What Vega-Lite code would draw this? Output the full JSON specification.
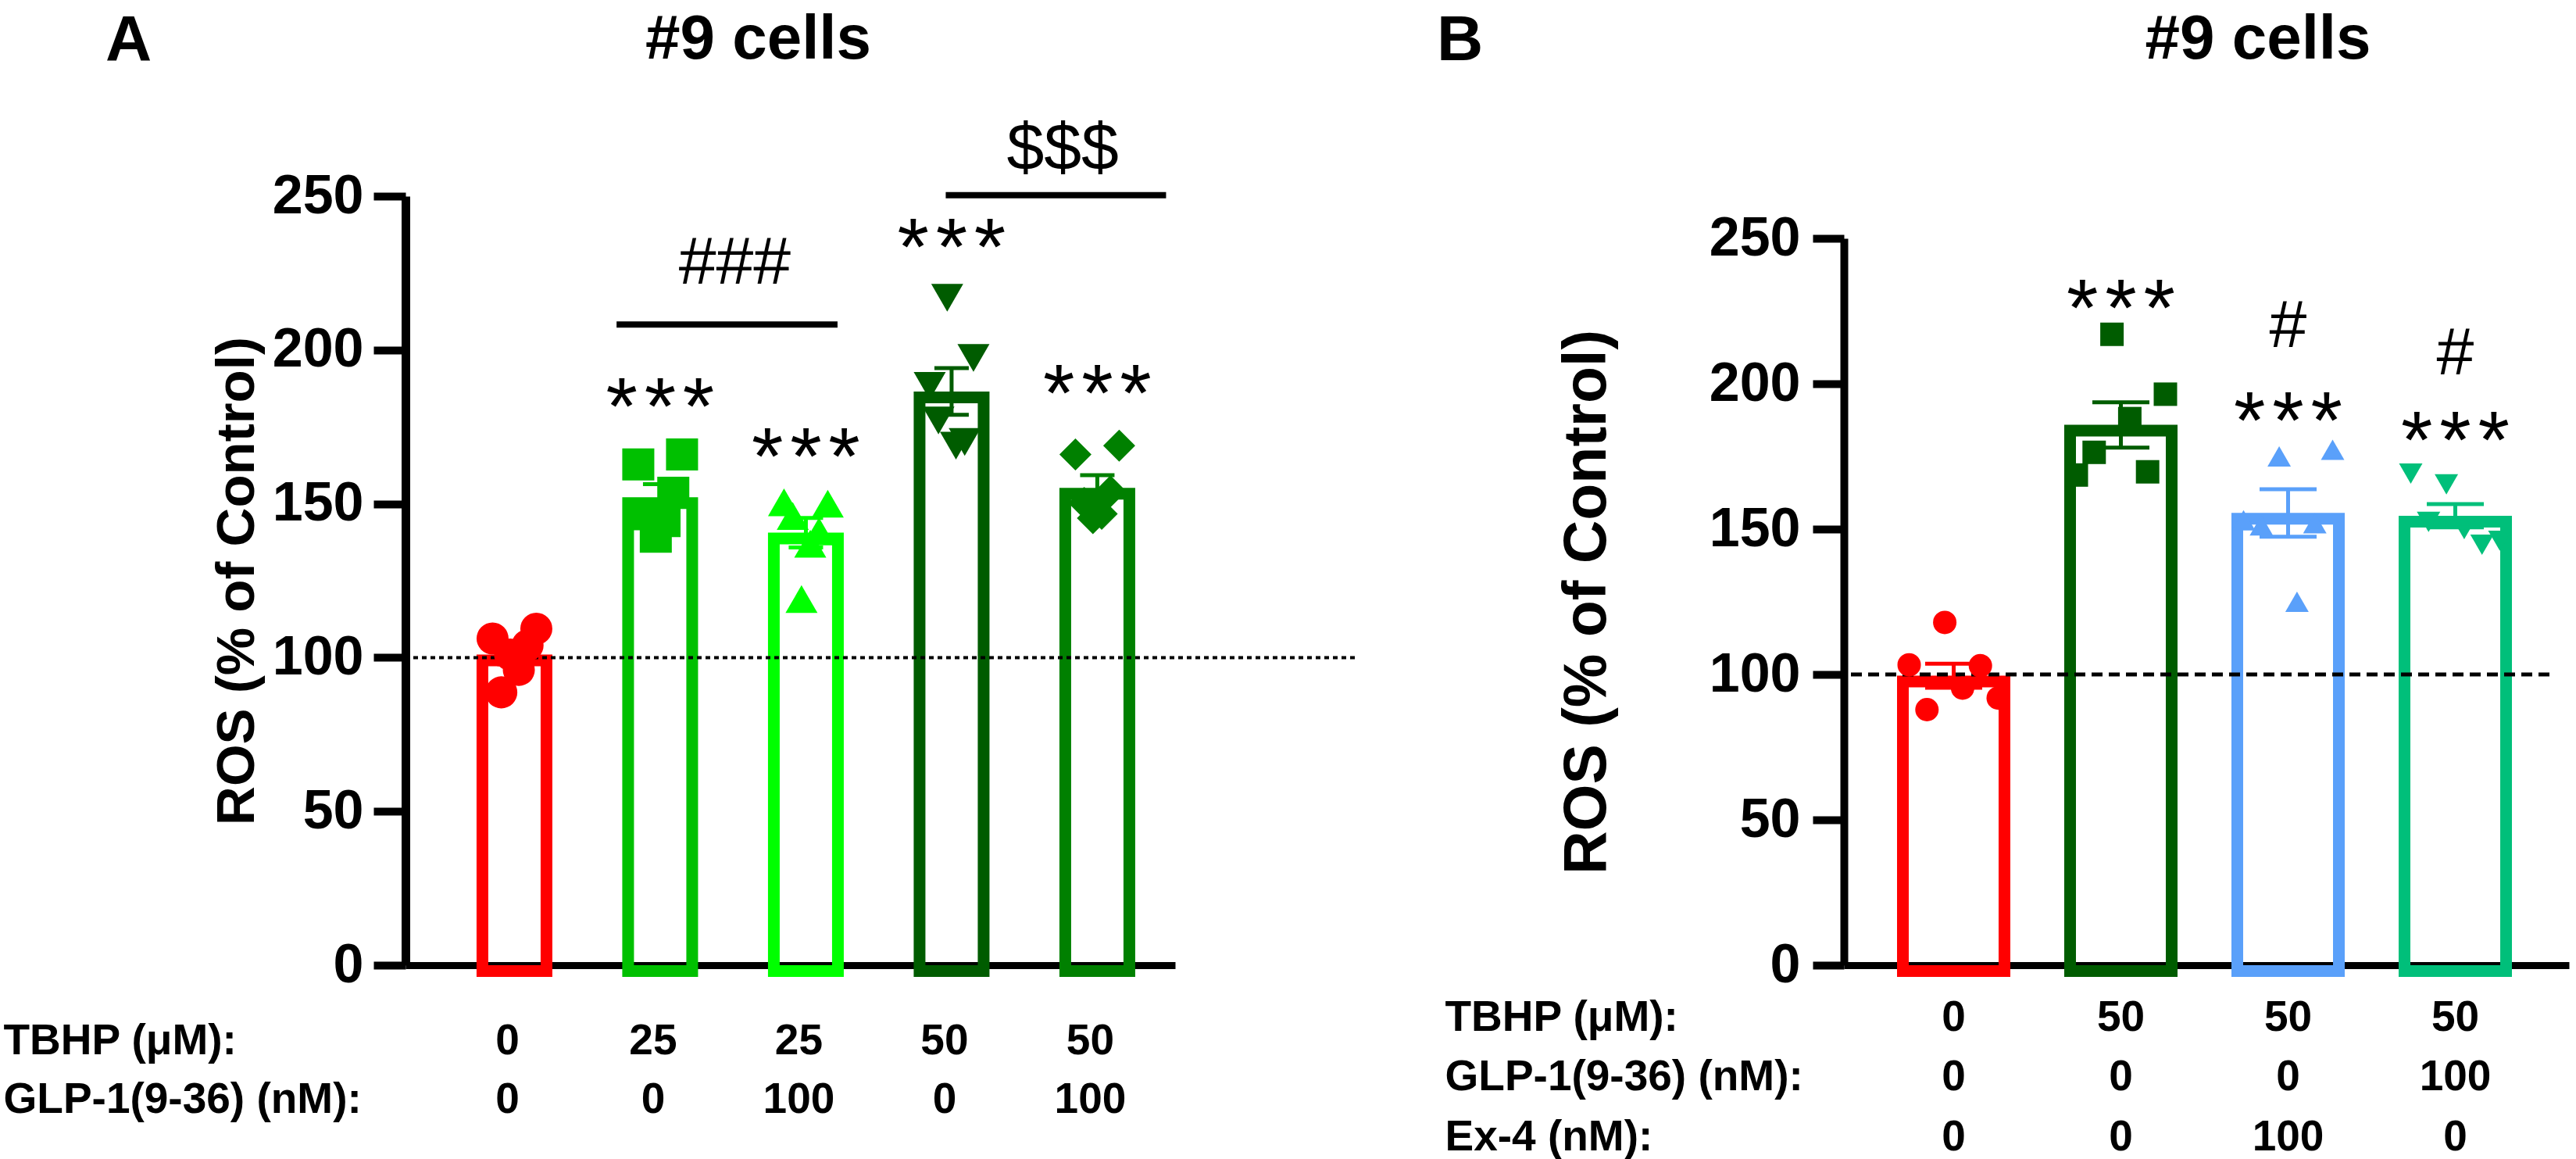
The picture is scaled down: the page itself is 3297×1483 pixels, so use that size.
{
  "$schema": "https://vega.github.io/schema/vega-lite/v6.json",
  "background": "white",
  "autosize": {"type": "pad"},
  "padding": {"left": 4, "top": 10, "right": 5, "bottom": 5},
  "spacing": 103,
  "resolve": {"scale": {"color": "independent", "shape": "independent", "xOffset": "independent"}},
  "datasets": {
    "ctrl": [{"control": 100}],
    "barsA": [
      {"group": "0|0", "mean": 101, "lo": 97.8, "hi": 104.2},
      {"group": "25|0", "mean": 152.1, "lo": 147.8, "hi": 156.4},
      {"group": "25|100", "mean": 140.6, "lo": 135.8, "hi": 145.4},
      {"group": "50|0", "mean": 186.5, "lo": 178.9, "hi": 194.1},
      {"group": "50|100", "mean": 155.2, "lo": 151.1, "hi": 159.3}
    ],
    "pointsA": [
      {"group": "0|0", "rep": 1, "value": 106.2},
      {"group": "0|0", "rep": 2, "value": 88.7},
      {"group": "0|0", "rep": 3, "value": 101},
      {"group": "0|0", "rep": 4, "value": 96},
      {"group": "0|0", "rep": 5, "value": 104},
      {"group": "0|0", "rep": 6, "value": 109.4},
      {"group": "25|0", "rep": 1, "value": 162.8},
      {"group": "25|0", "rep": 2, "value": 146.6},
      {"group": "25|0", "rep": 3, "value": 139.3},
      {"group": "25|0", "rep": 4, "value": 144.4},
      {"group": "25|0", "rep": 5, "value": 153.6},
      {"group": "25|0", "rep": 6, "value": 166.0},
      {"group": "25|100", "rep": 1, "value": 150.5},
      {"group": "25|100", "rep": 2, "value": 146},
      {"group": "25|100", "rep": 3, "value": 119},
      {"group": "25|100", "rep": 4, "value": 137},
      {"group": "25|100", "rep": 5, "value": 141},
      {"group": "25|100", "rep": 6, "value": 150},
      {"group": "50|0", "rep": 1, "value": 188.3},
      {"group": "50|0", "rep": 2, "value": 177.1},
      {"group": "50|0", "rep": 3, "value": 217},
      {"group": "50|0", "rep": 4, "value": 168.9},
      {"group": "50|0", "rep": 5, "value": 170.1},
      {"group": "50|0", "rep": 6, "value": 197.4},
      {"group": "50|100", "rep": 1, "value": 166.0},
      {"group": "50|100", "rep": 2, "value": 150.3},
      {"group": "50|100", "rep": 3, "value": 145.3},
      {"group": "50|100", "rep": 4, "value": 146.7},
      {"group": "50|100", "rep": 5, "value": 154.0},
      {"group": "50|100", "rep": 6, "value": 168.9}
    ],
    "starsA": [
      {"group": "25|0", "y": 172.5, "label": "*\u200a*\u200a*"},
      {"group": "25|100", "y": 156.3, "label": "*\u200a*\u200a*"},
      {"group": "50|0", "y": 224.3, "label": "*\u200a*\u200a*"},
      {"group": "50|100", "y": 176.8, "label": "*\u200a*\u200a*"}
    ],
    "bracketsA": [
      {"from": "25|0", "to": "25|100", "y": 208.3, "labelY": 221.5, "label": "###"},
      {"from": "50|0", "to": "50|100", "y": 250.3, "labelY": 258.6, "label": "$$$"}
    ],
    "barsB": [
      {"group": "0|0|0", "mean": 99.6, "lo": 95.4, "hi": 103.7},
      {"group": "50|0|0", "mean": 185.9, "lo": 178.0, "hi": 193.6},
      {"group": "50|0|100", "mean": 155.6, "lo": 147.4, "hi": 163.7},
      {"group": "50|100|0", "mean": 154.6, "lo": 150.6, "hi": 158.6}
    ],
    "pointsB": [
      {"group": "0|0|0", "rep": 1, "value": 103.3},
      {"group": "0|0|0", "rep": 2, "value": 87.9},
      {"group": "0|0|0", "rep": 3, "value": 117.9},
      {"group": "0|0|0", "rep": 4, "value": 95.3},
      {"group": "0|0|0", "rep": 5, "value": 103.0},
      {"group": "0|0|0", "rep": 6, "value": 91.9},
      {"group": "50|0|0", "rep": 1, "value": 168.6},
      {"group": "50|0|0", "rep": 2, "value": 176.4},
      {"group": "50|0|0", "rep": 3, "value": 217.0},
      {"group": "50|0|0", "rep": 4, "value": 188.0},
      {"group": "50|0|0", "rep": 5, "value": 169.7},
      {"group": "50|0|0", "rep": 6, "value": 196.4},
      {"group": "50|0|100", "rep": 1, "value": 153.0},
      {"group": "50|0|100", "rep": 2, "value": 151.3},
      {"group": "50|0|100", "rep": 3, "value": 175.0},
      {"group": "50|0|100", "rep": 4, "value": 125.0},
      {"group": "50|0|100", "rep": 5, "value": 152.0},
      {"group": "50|0|100", "rep": 6, "value": 177.3},
      {"group": "50|100|0", "rep": 1, "value": 169.1},
      {"group": "50|100|0", "rep": 2, "value": 152.5},
      {"group": "50|100|0", "rep": 3, "value": 165.4},
      {"group": "50|100|0", "rep": 4, "value": 150.0},
      {"group": "50|100|0", "rep": 5, "value": 144.6},
      {"group": "50|100|0", "rep": 6, "value": 146.0}
    ],
    "starsB": [
      {"group": "50|0|0", "y": 216.5, "label": "*\u200a*\u200a*", "kind": "star"},
      {"group": "50|0|100", "y": 177.8, "label": "*\u200a*\u200a*", "kind": "star"},
      {"group": "50|100|0", "y": 171.1, "label": "*\u200a*\u200a*", "kind": "star"},
      {"group": "50|0|100", "y": 212.7, "label": "#", "kind": "hash"},
      {"group": "50|100|0", "y": 203.1, "label": "#", "kind": "hash"}
    ]
  },
  "hconcat": [
    {
      "title": {"text": "A", "anchor": "start", "frame": "group", "dx": -384, "offset": -148, "baseline": "alphabetic", "font": "Liberation Sans", "fontSize": 82, "fontWeight": "bold", "color": "black"},
      "resolve": {"scale": {"xOffset": "independent"}},
      "hconcat": [
        {
          "title": {"text": "#9 cells", "anchor": "middle", "frame": "group", "dx": -156, "offset": -6.8, "baseline": "alphabetic", "font": "Liberation Sans", "fontSize": 80, "fontWeight": "bold", "color": "black"},
          "width": 1215,
          "height": 984,
          "resolve": {"scale": {"xOffset": "independent"}},
          "layer": [
            {
              "data": {"name": "barsA"},
              "mark": {"type": "bar", "filled": false, "strokeWidth": 15, "yOffset": 7.5, "y2Offset": -3},
              "encoding": {
                "x": {
                  "field": "group", "type": "nominal",
                  "scale": {"domain": ["0|0", "25|0", "25|100", "50|0", "50|100"], "range": [0, 985], "paddingInner": 0.5603, "paddingOuter": 0.4209, "align": 0.627},
                  "axis": {
                    "orient": "bottom", "domain": true, "domainWidth": 9, "domainColor": "black",
                    "ticks": false, "tickSize": 0, "grid": false,
                    "labelExpr": "split(datum.label, '|')", "labelAngle": 0, "labelAlign": "center", "labelBaseline": "top",
                    "labelFont": "Liberation Sans", "labelFontWeight": "bold", "labelFontSize": 55, "labelColor": "black",
                    "labelPadding": 70, "labelLineHeight": 75, "labelOffset": -9, "labelOverlap": false, "labelLimit": 0,
                    "title": ["TBHP  (μM):", "GLP-1(9-36) (nM):"], "titleX": -515, "titleY": 113, "titleAlign": "left", "titleBaseline": "alphabetic",
                    "titleAngle": 0, "titleFont": "Liberation Sans", "titleFontWeight": "bold", "titleFontSize": 55, "titleLineHeight": 75, "titleColor": "black", "titleLimit": 0
                  }
                },
                "y": {
                  "field": "mean", "type": "quantitative",
                  "scale": {"domain": [0, 250], "nice": false, "zero": false},
                  "axis": {
                    "values": [0, 50, 100, 150, 200, 250], "grid": false,
                    "domain": true, "domainWidth": 11, "domainColor": "black",
                    "ticks": true, "tickSize": 41, "tickWidth": 10, "tickColor": "black",
                    "labelFont": "Liberation Sans", "labelFontWeight": "bold", "labelFontSize": 70, "labelColor": "black", "labelPadding": 13, "labelFlush": false,
                    "title": "ROS (% of Control)", "titleX": -195, "titleY": 492, "titleAngle": 270, "titleAlign": "center", "titleBaseline": "alphabetic",
                    "titleFont": "Liberation Sans", "titleFontWeight": "bold", "titleFontSize": 69, "titleColor": "black", "titleLimit": 0
                  }
                },
                "color": {"field": "group", "type": "nominal", "scale": {"domain": ["0|0", "25|0", "25|100", "50|0", "50|100"], "range": ["#FF0000", "#00C000", "#00FF00", "#005C00", "#008000"]}, "legend": null}
              }
            },
            {
              "data": {"name": "ctrl"},
              "mark": {"type": "rule", "strokeWidth": 4, "strokeDash": [6, 5], "color": "black"},
              "encoding": {"y": {"field": "control", "type": "quantitative", "scale": {"domain": [0, 250], "nice": false, "zero": false}}}
            },
            {
              "data": {"name": "pointsA"},
              "mark": {"type": "point", "filled": true, "opacity": 1, "size": 1681, "strokeWidth": 0},
              "encoding": {
                "x": {"field": "group", "type": "nominal", "scale": {"domain": ["0|0", "25|0", "25|100", "50|0", "50|100"]}},
                "xOffset": {"field": "rep", "type": "quantitative", "scale": {"domain": [1, 6], "range": [13, 69]}},
                "y": {"field": "value", "type": "quantitative", "scale": {"domain": [0, 250], "nice": false, "zero": false}},
                "color": {"field": "group", "type": "nominal", "scale": {"domain": ["0|0", "25|0", "25|100", "50|0", "50|100"], "range": ["#FF0000", "#00C000", "#00FF00", "#005C00", "#008000"]}, "legend": null},
                "shape": {"field": "group", "type": "nominal", "scale": {"domain": ["0|0", "25|0", "25|100", "50|0", "50|100"], "range": ["circle", "square", "triangle-up", "triangle-down", "diamond"]}, "legend": null}
              }
            },
            {
              "data": {"name": "barsA"},
              "mark": {"type": "rule", "strokeWidth": 5},
              "encoding": {
                "x": {"field": "group", "type": "nominal", "scale": {"domain": ["0|0", "25|0", "25|100", "50|0", "50|100"]}},
                "y": {"field": "lo", "type": "quantitative", "scale": {"domain": [0, 250], "nice": false, "zero": false}},
                "y2": {"field": "hi"},
                "color": {"field": "group", "type": "nominal", "scale": {"domain": ["0|0", "25|0", "25|100", "50|0", "50|100"], "range": ["#FF0000", "#00C000", "#00FF00", "#005C00", "#008000"]}, "legend": null}
              }
            },
            {
              "data": {"name": "barsA"},
              "mark": {"type": "tick", "orient": "horizontal", "thickness": 5, "size": 44, "opacity": 1},
              "encoding": {
                "x": {"field": "group", "type": "nominal", "scale": {"domain": ["0|0", "25|0", "25|100", "50|0", "50|100"]}},
                "y": {"field": "hi", "type": "quantitative", "scale": {"domain": [0, 250], "nice": false, "zero": false}},
                "color": {"field": "group", "type": "nominal", "scale": {"domain": ["0|0", "25|0", "25|100", "50|0", "50|100"], "range": ["#FF0000", "#00C000", "#00FF00", "#005C00", "#008000"]}, "legend": null}
              }
            },
            {
              "data": {"name": "barsA"},
              "mark": {"type": "tick", "orient": "horizontal", "thickness": 5, "size": 44, "opacity": 1},
              "encoding": {
                "x": {"field": "group", "type": "nominal", "scale": {"domain": ["0|0", "25|0", "25|100", "50|0", "50|100"]}},
                "y": {"field": "lo", "type": "quantitative", "scale": {"domain": [0, 250], "nice": false, "zero": false}},
                "color": {"field": "group", "type": "nominal", "scale": {"domain": ["0|0", "25|0", "25|100", "50|0", "50|100"], "range": ["#FF0000", "#00C000", "#00FF00", "#005C00", "#008000"]}, "legend": null}
              }
            },
            {
              "data": {"name": "starsA"},
              "mark": {"type": "text", "font": "Liberation Sans", "fontSize": 104, "baseline": "alphabetic", "align": "center", "color": "black"},
              "encoding": {
                "x": {"field": "group", "type": "nominal", "scale": {"domain": ["0|0", "25|0", "25|100", "50|0", "50|100"]}},
                "y": {"field": "y", "type": "quantitative", "scale": {"domain": [0, 250], "nice": false, "zero": false}},
                "text": {"field": "label"}
              }
            },
            {
              "data": {"name": "bracketsA"},
              "transform": [{"filter": "datum.label === '###'"}],
              "mark": {"type": "rule", "strokeWidth": 8, "color": "black", "xOffset": -55.8, "x2Offset": 40.5},
              "encoding": {
                "x": {"field": "from", "type": "nominal", "scale": {"domain": ["0|0", "25|0", "25|100", "50|0", "50|100"]}},
                "x2": {"field": "to"},
                "y": {"field": "y", "type": "quantitative", "scale": {"domain": [0, 250], "nice": false, "zero": false}}
              }
            },
            {
              "data": {"name": "bracketsA"},
              "transform": [{"filter": "datum.label === '###'"}],
              "mark": {"type": "text", "font": "Liberation Sans", "fontSize": 86, "baseline": "alphabetic", "align": "center", "color": "black", "dx": 95.5},
              "encoding": {
                "x": {"field": "from", "type": "nominal", "scale": {"domain": ["0|0", "25|0", "25|100", "50|0", "50|100"]}},
                "y": {"field": "labelY", "type": "quantitative", "scale": {"domain": [0, 250], "nice": false, "zero": false}},
                "text": {"field": "label"}
              }
            },
            {
              "data": {"name": "bracketsA"},
              "transform": [{"filter": "datum.label === '$$$'"}],
              "mark": {"type": "rule", "strokeWidth": 8, "color": "black", "xOffset": -7.5, "x2Offset": 88},
              "encoding": {
                "x": {"field": "from", "type": "nominal", "scale": {"domain": ["0|0", "25|0", "25|100", "50|0", "50|100"]}},
                "x2": {"field": "to"},
                "y": {"field": "y", "type": "quantitative", "scale": {"domain": [0, 250], "nice": false, "zero": false}}
              }
            },
            {
              "data": {"name": "bracketsA"},
              "transform": [{"filter": "datum.label === '$$$'"}],
              "mark": {"type": "text", "font": "Liberation Sans", "fontSize": 86, "baseline": "alphabetic", "align": "center", "color": "black", "dx": 142.2},
              "encoding": {
                "x": {"field": "from", "type": "nominal", "scale": {"domain": ["0|0", "25|0", "25|100", "50|0", "50|100"]}},
                "y": {"field": "labelY", "type": "quantitative", "scale": {"domain": [0, 250], "nice": false, "zero": false}},
                "text": {"field": "label"}
              }
            }
          ]
        }
      ]
    },
    {
      "title": {"text": "B", "anchor": "start", "frame": "group", "dx": -521, "offset": -148, "baseline": "alphabetic", "font": "Liberation Sans", "fontSize": 82, "fontWeight": "bold", "color": "black"},
      "resolve": {"scale": {"xOffset": "independent"}},
      "hconcat": [
        {
          "title": {"text": "#9 cells", "anchor": "middle", "frame": "group", "dx": 78.5, "offset": 96, "baseline": "alphabetic", "font": "Liberation Sans", "fontSize": 80, "fontWeight": "bold", "color": "black"},
          "width": 903,
          "height": 984,
          "resolve": {"scale": {"xOffset": "independent"}},
          "layer": [
            {
              "data": {"name": "barsB"},
              "mark": {"type": "bar", "filled": false, "strokeWidth": 15, "yOffset": 7.5, "y2Offset": -3},
              "encoding": {
                "x": {
                  "field": "group", "type": "nominal",
                  "scale": {"domain": ["0|0|0", "50|0|0", "50|0|100", "50|100|0"], "range": [0, 928], "paddingInner": 0.3925, "paddingOuter": 0.36445, "align": 0.484},
                  "axis": {
                    "orient": "bottom", "domain": true, "domainWidth": 9, "domainColor": "black",
                    "ticks": false, "tickSize": 0, "grid": false,
                    "labelExpr": "split(datum.label, '|')", "labelAngle": 0, "labelAlign": "center", "labelBaseline": "top",
                    "labelFont": "Liberation Sans", "labelFontWeight": "bold", "labelFontSize": 55, "labelColor": "black",
                    "labelPadding": 40, "labelLineHeight": 76.5, "labelOffset": 0, "labelOverlap": false, "labelLimit": 0,
                    "title": ["TBHP  (μM):", "GLP-1(9-36) (nM):", "Ex-4 (nM):"], "titleX": -511, "titleY": 83, "titleAlign": "left", "titleBaseline": "alphabetic",
                    "titleAngle": 0, "titleFont": "Liberation Sans", "titleFontWeight": "bold", "titleFontSize": 55, "titleLineHeight": 76.5, "titleColor": "black", "titleLimit": 0
                  }
                },
                "y": {
                  "field": "mean", "type": "quantitative",
                  "scale": {"domain": [0, 250], "nice": false, "zero": false, "range": [984, 54]},
                  "axis": {
                    "values": [0, 50, 100, 150, 200, 250], "grid": false,
                    "domain": true, "domainWidth": 10, "domainColor": "black",
                    "ticks": true, "tickSize": 40, "tickWidth": 10, "tickColor": "black",
                    "labelFont": "Liberation Sans", "labelFontWeight": "bold", "labelFontSize": 70, "labelColor": "black", "labelPadding": 16, "labelFlush": false,
                    "title": "ROS (% of Control)", "titleX": -306, "titleY": 519, "titleAngle": 270, "titleAlign": "center", "titleBaseline": "alphabetic",
                    "titleFont": "Liberation Sans", "titleFontWeight": "bold", "titleFontSize": 77, "titleColor": "black", "titleLimit": 0
                  }
                },
                "color": {"field": "group", "type": "nominal", "scale": {"domain": ["0|0|0", "50|0|0", "50|0|100", "50|100|0"], "range": ["#FF0000", "#005C00", "#5AA0FA", "#00BF7A"]}, "legend": null}
              }
            },
            {
              "data": {"name": "ctrl"},
              "mark": {"type": "rule", "strokeWidth": 5, "strokeDash": [14, 8], "color": "black"},
              "encoding": {"y": {"field": "control", "type": "quantitative", "scale": {"domain": [0, 250], "nice": false, "zero": false, "range": [984, 54]}}}
            },
            {
              "data": {"name": "pointsB"},
              "mark": {"type": "point", "filled": true, "opacity": 1, "size": 900, "strokeWidth": 0},
              "encoding": {
                "x": {"field": "group", "type": "nominal", "scale": {"domain": ["0|0|0", "50|0|0", "50|0|100", "50|100|0"]}},
                "xOffset": {"field": "rep", "type": "quantitative", "scale": {"domain": [1, 6], "range": [8, 122]}},
                "y": {"field": "value", "type": "quantitative", "scale": {"domain": [0, 250], "nice": false, "zero": false, "range": [984, 54]}},
                "color": {"field": "group", "type": "nominal", "scale": {"domain": ["0|0|0", "50|0|0", "50|0|100", "50|100|0"], "range": ["#FF0000", "#005C00", "#5AA0FA", "#00BF7A"]}, "legend": null},
                "shape": {"field": "group", "type": "nominal", "scale": {"domain": ["0|0|0", "50|0|0", "50|0|100", "50|100|0"], "range": ["circle", "square", "triangle-up", "triangle-down"]}, "legend": null}
              }
            },
            {
              "data": {"name": "barsB"},
              "mark": {"type": "rule", "strokeWidth": 5},
              "encoding": {
                "x": {"field": "group", "type": "nominal", "scale": {"domain": ["0|0|0", "50|0|0", "50|0|100", "50|100|0"]}},
                "y": {"field": "lo", "type": "quantitative", "scale": {"domain": [0, 250], "nice": false, "zero": false, "range": [984, 54]}},
                "y2": {"field": "hi"},
                "color": {"field": "group", "type": "nominal", "scale": {"domain": ["0|0|0", "50|0|0", "50|0|100", "50|100|0"], "range": ["#FF0000", "#005C00", "#5AA0FA", "#00BF7A"]}, "legend": null}
              }
            },
            {
              "data": {"name": "barsB"},
              "mark": {"type": "tick", "orient": "horizontal", "thickness": 5, "size": 73, "opacity": 1},
              "encoding": {
                "x": {"field": "group", "type": "nominal", "scale": {"domain": ["0|0|0", "50|0|0", "50|0|100", "50|100|0"]}},
                "y": {"field": "hi", "type": "quantitative", "scale": {"domain": [0, 250], "nice": false, "zero": false, "range": [984, 54]}},
                "color": {"field": "group", "type": "nominal", "scale": {"domain": ["0|0|0", "50|0|0", "50|0|100", "50|100|0"], "range": ["#FF0000", "#005C00", "#5AA0FA", "#00BF7A"]}, "legend": null}
              }
            },
            {
              "data": {"name": "barsB"},
              "mark": {"type": "tick", "orient": "horizontal", "thickness": 5, "size": 73, "opacity": 1},
              "encoding": {
                "x": {"field": "group", "type": "nominal", "scale": {"domain": ["0|0|0", "50|0|0", "50|0|100", "50|100|0"]}},
                "y": {"field": "lo", "type": "quantitative", "scale": {"domain": [0, 250], "nice": false, "zero": false, "range": [984, 54]}},
                "color": {"field": "group", "type": "nominal", "scale": {"domain": ["0|0|0", "50|0|0", "50|0|100", "50|100|0"], "range": ["#FF0000", "#005C00", "#5AA0FA", "#00BF7A"]}, "legend": null}
              }
            },
            {
              "data": {"name": "starsB"},
              "transform": [{"filter": "datum.kind === 'star'"}],
              "mark": {"type": "text", "font": "Liberation Sans", "fontSize": 104, "baseline": "alphabetic", "align": "center", "color": "black"},
              "encoding": {
                "x": {"field": "group", "type": "nominal", "scale": {"domain": ["0|0|0", "50|0|0", "50|0|100", "50|100|0"]}},
                "y": {"field": "y", "type": "quantitative", "scale": {"domain": [0, 250], "nice": false, "zero": false, "range": [984, 54]}},
                "text": {"field": "label"}
              }
            },
            {
              "data": {"name": "starsB"},
              "transform": [{"filter": "datum.kind === 'hash'"}],
              "mark": {"type": "text", "font": "Liberation Sans", "fontSize": 86, "baseline": "alphabetic", "align": "center", "color": "black"},
              "encoding": {
                "x": {"field": "group", "type": "nominal", "scale": {"domain": ["0|0|0", "50|0|0", "50|0|100", "50|100|0"]}},
                "y": {"field": "y", "type": "quantitative", "scale": {"domain": [0, 250], "nice": false, "zero": false, "range": [984, 54]}},
                "text": {"field": "label"}
              }
            }
          ]
        }
      ]
    }
  ],
  "config": {
    "view": {"stroke": null},
    "axis": {"grid": false},
    "title": {"color": "black"}
  }
}
